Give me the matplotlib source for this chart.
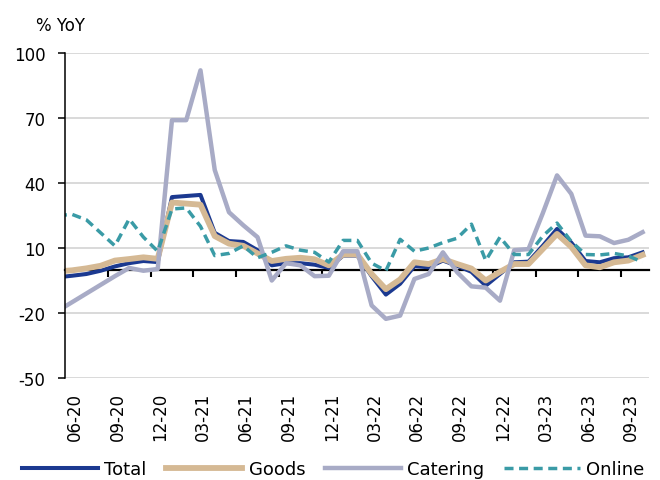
import numpy as np
import matplotlib.pyplot as plt

plt.rcParams['font.family'] = ['DejaVu Sans']
plt.rcParams['axes.unicode_minus'] = False

# monthly % YoY, 05-20 .. 10-23 (first month sits just left of the axis)
total = [-3.5, -2.8, -2.0, -0.5, 1.5, 3.0, 4.0, 3.5, 33.5, 34.0, 34.5, 17.0, 13.2, 12.8,
         9.0, 2.0, 3.0, 3.0, 2.3, 0.8, 6.5, 6.5, -3.0, -11.5, -6.5, 1.6, 1.1, 4.2,
         1.8, -1.0, -7.4, -2.0, 3.4, 3.7, 11.0, 18.8, 12.5, 4.0, 3.4, 5.3, 5.7, 8.0]
goods = [-0.8, -0.3, 0.6, 1.8, 4.2, 4.9, 5.7, 5.0, 31.0, 30.5, 30.0, 15.5, 12.0, 11.0,
         7.5, 4.0, 5.0, 5.5, 4.8, 2.0, 7.0, 7.0, -2.0, -9.0, -4.5, 3.4, 2.6, 4.9,
         2.6, 0.5, -5.0, -1.0, 2.6, 2.6, 9.5, 16.5, 10.5, 2.0, 1.1, 3.4, 4.2, 6.8]
catering = [-19, -15, -11, -7, -3, 0.8, -0.5, 0.3, 69, 69, 92, 46, 26.5, 20.5,
            15, -5, 3, 2, -3, -2.8, 8.5, 8.5, -16.5, -22.7, -21.2, -4.3, -2, 8,
            -1.2, -7.7, -8.3, -14.3, 9, 9.5, 26, 43.5, 35, 15.7, 15.4, 12.3, 13.8, 17.3]
online = [25, 25.5, 23, 17, 11, 23.4, 15, 8.5, 28, 28.5, 20, 6.5, 7.5, 11,
          5.5, 8, 11, 9, 8, 3.5, 13.5, 13.5, 3, -0.5, 14, 8.5, 10, 12.5,
          14.5, 21, 4.2, 15, 7, 7, 15.5, 21.5, 13, 7, 6.8, 7.5, 6.3, 3.5]

tick_labels = ['06-20', '09-20', '12-20', '03-21', '06-21', '09-21', '12-21',
               '03-22', '06-22', '09-22', '12-22', '03-23', '06-23', '09-23']
y_ticks = [-50, -20, 10, 40, 70, 100]

fig = plt.figure(figsize=(6.6, 4.81), dpi=100)
ax = fig.add_axes([65/660, 1-379/481, (649-65)/660, (379-54)/481])

x = np.arange(len(total))
ax.plot(x, total, color='#1b3990', lw=2.9, label='Total')
ax.plot(x, goods, color='#d5b994', lw=4.2, label='Goods')
ax.plot(x, catering, color='#a8abc6', lw=3.2, label='Catering')
ax.plot(x, online, color='#3a9ba6', lw=2.5, ls=(0, (2.6, 1.6)), label='Online')

ax.set_xlim(0.5, len(total) - 0.55)
ax.set_ylim(-50, 100)
ax.set_yticks(y_ticks)
ax.yaxis.grid(True, color='#d9d9d9', lw=1.4)
ax.set_axisbelow(True)

for s in ['top', 'right']:
    ax.spines[s].set_visible(False)
ax.spines['left'].set_linewidth(1.1)
ax.spines['bottom'].set_position(('data', 0))
ax.spines['bottom'].set_linewidth(1.6)
ax.spines['bottom'].set_zorder(1.5)

# ticks on the zero line fall between months
label_pos = 1 + 3 * np.arange(len(tick_labels))
ax.set_xticks(label_pos[1:] - 0.5)
ax.tick_params(axis='x', direction='out', length=5, width=1.5, labelbottom=False)
ax.tick_params(axis='y', direction='out', length=5, width=1.1, pad=9, labelsize=12)

sec = ax.secondary_xaxis('bottom')
sec.set_xticks(label_pos + 0.2, tick_labels, rotation=90)
sec.tick_params(length=0, pad=10, labelsize=12)
sec.spines['bottom'].set_visible(False)

fig.text(36/660, 1-26/481, '% YoY', fontsize=12, va='center', ha='left')

fig.legend(loc='center left', bbox_to_anchor=(22/660, 1-470/481), ncol=4,
           frameon=False, fontsize=13, handlelength=4.2, handletextpad=0.35,
           columnspacing=1.1, borderpad=0, borderaxespad=0)

fig.savefig('out.png', dpi=100)
